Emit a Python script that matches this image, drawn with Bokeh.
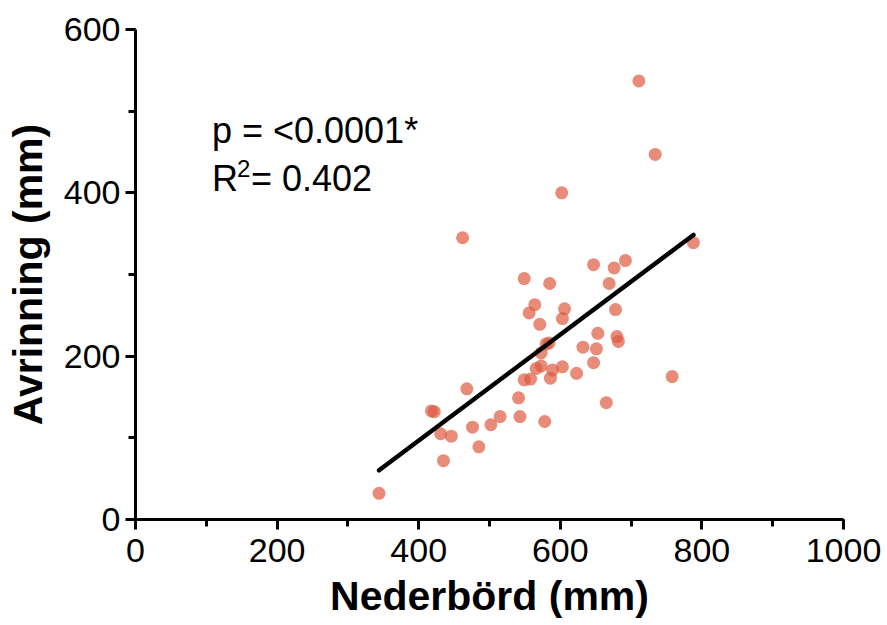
from bokeh.plotting import figure
from bokeh.models import Range1d, SingleIntervalTicker, Label
from bokeh.embed import file_html
from bokeh.resources import INLINE

# Data
precip = [344, 418, 422, 431, 446, 435, 462, 468, 476, 485, 502, 515, 541, 543, 578,
          549, 585, 564, 556, 571, 606, 603, 580, 584, 573, 573, 566, 589, 603, 549,
          558, 586, 623, 632, 651, 647, 653, 680, 682, 678, 669, 647, 676, 692, 602,
          788, 758, 665, 711, 734]
runoff = [32, 133, 132, 105, 102, 72, 345, 160, 113, 89, 116, 126, 149, 126, 120,
          295, 289, 263, 253, 239, 258, 246, 215, 216, 204, 188, 185, 183, 187, 171,
          172, 173, 179, 211, 209, 192, 228, 224, 218, 257, 289, 312, 308, 317, 400,
          339, 175, 143, 537, 447]

# Regression line
slope = 0.649
intercept = -163.0
p_text = "p = <0.0001*"
r2_r = "R"
r2_sup = "2"
r2_rest = "= 0.402"

x_label = "Nederbörd (mm)"
y_label = "Avrinning (mm)"

FONT = "Liberation Sans"

p = figure(width=887, height=625, output_backend="svg", toolbar_location=None,
           x_range=Range1d(0, 1000), y_range=Range1d(0, 600),
           min_border_left=135, min_border_right=44, min_border_top=29, min_border_bottom=106)
p.outline_line_color = None
p.xgrid.visible = False
p.ygrid.visible = False

p.scatter(precip, runoff, size=13, fill_color="#DE5A3E", fill_alpha=0.7, line_color=None)

x0, x1 = min(precip), max(precip)
p.line([x0, x1], [slope * x0 + intercept, slope * x1 + intercept], line_color="black",
       line_width=4.5, line_cap="round")

for ax, tick_int, lab in ((p.xaxis[0], 200, x_label), (p.yaxis[0], 200, y_label)):
    ax.ticker = SingleIntervalTicker(interval=tick_int, num_minor_ticks=2)
    ax.axis_line_width = 3
    ax.axis_line_color = "black"
    ax.major_tick_line_width = 3
    ax.minor_tick_line_width = 3
    ax.major_tick_in = 0
    ax.major_tick_out = 10
    ax.minor_tick_in = 0
    ax.minor_tick_out = 7
    ax.major_label_text_font = FONT
    ax.major_label_text_font_size = "34px"
    ax.major_label_text_color = "black"
    ax.axis_label = lab
    ax.axis_label_text_font = FONT
    ax.axis_label_text_font_style = "bold"
    ax.axis_label_text_font_size = "41px"
    ax.axis_label_text_color = "black"

p.xaxis.major_label_standoff = 9
p.xaxis.axis_label_standoff = 8
p.yaxis.major_label_standoff = 5
p.yaxis.axis_label_standoff = 10

common = dict(text_font=FONT, text_baseline="middle", text_color="black")
p.add_layout(Label(x=108, y=476, text=p_text, text_font_size="36px", **common))
p.add_layout(Label(x=108, y=417, text=r2_r, text_font_size="36px", **common))
p.add_layout(Label(x=108, y=417, x_offset=25, y_offset=10, text=r2_sup,
                   text_font_size="24px", **common))
p.add_layout(Label(x=108, y=417, x_offset=39, text=r2_rest, text_font_size="36px", **common))

open("out.html", "w").write(file_html(p, INLINE))
